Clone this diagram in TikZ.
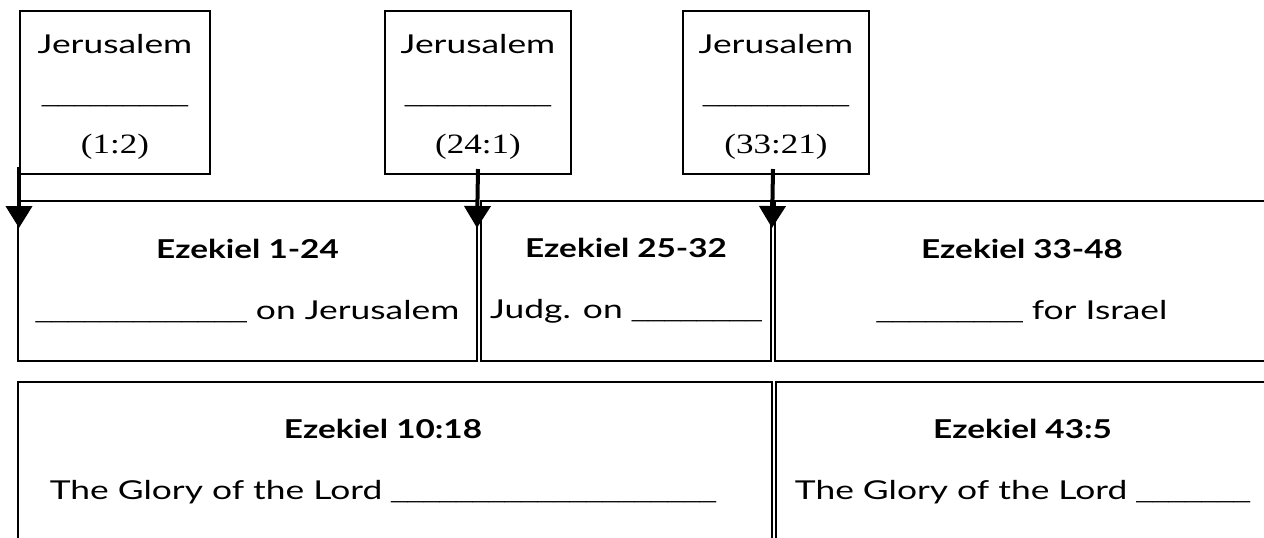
\documentclass[tikz,border=0pt]{standalone}
\usepackage{fontspec}
\setmainfont{Lato}[FakeStretch=1.36, BoldFeatures={FakeStretch=1.28}]
\newfontfamily\versefont{Liberation Serif}[FakeStretch=1.25]
\usetikzlibrary{arrows.meta}

\newlength{\gu}
\setlength{\gu}{0.5pt}

% a line to fill in
\newcommand{\fillin}[1]{{\versefont\foreach \k in {1,...,#1}{\_}}}

\tikzset{
  placebox/.style={draw, line width=1pt, anchor=north west, minimum height=163\gu,
    inner sep=0pt, align=center, font=\fontsize{13}{25}\selectfont},
  bookcell/.style={draw, line width=1pt, anchor=north west, minimum height=160\gu,
    inner sep=0pt, align=center, font=\fontsize{13}{30.5}\selectfont},
  drop/.style={line width=2pt, -{Triangle[length=11pt,width=13pt]}}
}

\begin{document}
\begin{tikzpicture}
\useasboundingbox (0,0) rectangle (1264\gu,-537\gu);

% places
\node[placebox, minimum width=190\gu] (jer1) at (19\gu,-10\gu)
  {\rule{0pt}{14pt}Jerusalem\\ \fillin{9}\\ {\versefont\fontsize{14}{25}\selectfont (1:2)}};
\node[placebox, minimum width=186\gu] (jer2) at (384\gu,-10\gu)
  {\rule{0pt}{14pt}Jerusalem\\ \fillin{9}\\ {\versefont\fontsize{14}{25}\selectfont (24:1)}};
\node[placebox, minimum width=186\gu] (jer3) at (682\gu,-10\gu)
  {\rule{0pt}{14pt}Jerusalem\\ \fillin{9}\\ {\versefont\fontsize{14}{25}\selectfont (33:21)}};

% book sections
\node[bookcell, minimum width=459\gu] (sec1) at (17\gu,-200\gu)
  {\textbf{Ezekiel 1-24}\\ \fillin{13} on Jerusalem};
\node[bookcell, minimum width=290\gu] (sec2) at (480\gu,-200\gu)
  {\textbf{Ezekiel 25-32}\\ Judg. on \fillin{8}};
\node[bookcell, minimum width=494\gu] (sec3) at (774\gu,-200\gu)
  {\textbf{Ezekiel 33-48}\\ \fillin{9} for Israel};

% glory
\node[bookcell, minimum width=754\gu] (glory1) at (17\gu,-381\gu)
  {\textbf{Ezekiel 10:18}\hspace*{24\gu}\\ The Glory of the Lord \fillin{20}\hspace*{24\gu}};
\node[bookcell, minimum width=493\gu] (glory2) at (775\gu,-381\gu)
  {\textbf{Ezekiel 43:5}\\ The Glory of the Lord \fillin{7}};

% arrows
\coordinate (tip1) at (19\gu,-228\gu);
\coordinate (tip2) at (477\gu,-228\gu);
\coordinate (tip3) at (772\gu,-228\gu);
\draw[drop] ([yshift=8\gu]jer1.south west) -- (tip1);
\draw[drop] ([yshift=6\gu]jer2.south) -- (tip2);
\draw[drop] ([xshift=-3\gu,yshift=6\gu]jer3.south) -- (tip3);
\end{tikzpicture}
\end{document}
